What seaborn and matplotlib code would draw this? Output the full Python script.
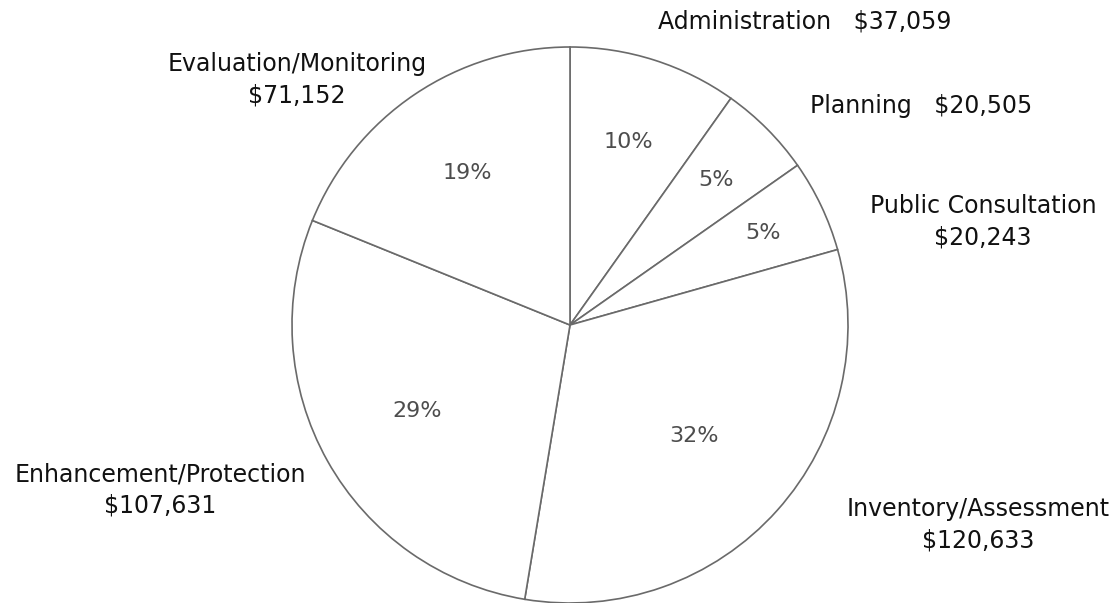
import numpy as np
import matplotlib
matplotlib.use("Agg")
import matplotlib.pyplot as plt
import seaborn as sns

# --- data ---
categories = ["Administration", "Planning", "Public Consultation",
              "Inventory/Assessment", "Enhancement/Protection", "Evaluation/Monitoring"]
amounts = [37059, 20505, 20243, 120633, 107631, 71152]
label_texts = ["Administration   $37,059", "Planning   $20,505",
               "Public Consultation\n$20,243", "Inventory/Assessment\n$120,633",
               "Enhancement/Protection\n$107,631", "Evaluation/Monitoring\n$71,152"]

# label placement (offsets from pie centre, in radius units)
label_pos = [(0.845, 1.09), (1.263, 0.788), (1.486, 0.371),
             (1.468, -0.719), (-1.475, -0.594), (-0.982, 0.881)]
pct_radius = [0.69, 0.74, 0.77, 0.60, 0.63, 0.66]

sns.set_theme(style="white")
plt.rcParams['font.family'] = ['DejaVu Sans']

W, H = 1116, 603
cx, cy, R = 570, 325, 278  # pixels, pie centre and radius

fig = plt.figure(figsize=(W / 100, H / 100), dpi=100)
ax = fig.add_axes([0, 0, 1, 1])

wedges, _ = ax.pie(amounts, startangle=90, counterclock=False,
                   colors=["white"] * len(amounts),
                   wedgeprops=dict(edgecolor="#6a6a6a", linewidth=1.2))

# axis limits so that 1 data unit = R pixels and centre sits at (cx, cy)
ax.set_xlim(-cx / R, (W - cx) / R)
ax.set_ylim(-(H - cy) / R, cy / R)
ax.set_aspect('auto')
ax.axis('off')

total = sum(amounts)
for w, amt, r in zip(wedges, amounts, pct_radius):
    mid = np.deg2rad((w.theta1 + w.theta2) / 2)
    ax.text(r * np.cos(mid), r * np.sin(mid), f"{amt / total * 100:.0f}%",
            ha='center', va='center', fontsize=16, color="#4d4d4d")

for txt, (x, y) in zip(label_texts, label_pos):
    ax.text(x, y, txt, ha='center', va='center', fontsize=17,
            color="#111111", linespacing=1.4)

fig.savefig("out.png", dpi=100, facecolor="white")
